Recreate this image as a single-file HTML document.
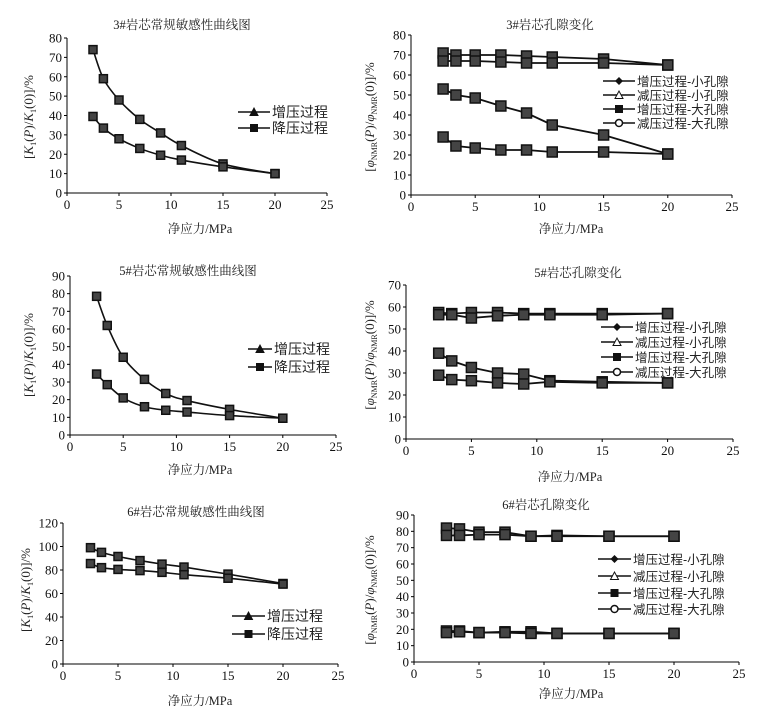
<!DOCTYPE html>
<html><head><meta charset="utf-8">
<style>
body{margin:0;background:#fff;}
svg{display:block;font-family:"Liberation Serif","Noto Serif CJK SC","Noto Sans CJK SC",serif;}
</style></head>
<body>
<svg id="chart" width="766" height="717" viewBox="0 0 766 717"></svg>
<script>
const xs = [2.5, 3.5, 5, 7, 9, 11, 15, 20];
const xTicks = [0, 5, 10, 15, 20, 25];
// panel 1: 3# conventional sensitivity
const p1Up = [74, 59, 48, 38, 31, 24.5, 15, 10];
const p1Down = [39.5, 33.5, 28, 23, 19.5, 17, 13.5, 10];
const p1YTicks = [0, 10, 20, 30, 40, 50, 60, 70, 80];
// panel 2: 3# pore change
const p2A = [71, 70, 70, 70, 69.5, 69, 68, 65];
const p2B = [67, 67, 67, 66.5, 66, 66, 66, 65];
const p2C = [53, 50, 48.5, 44.5, 41, 35, 30, 20.5];
const p2D = [29, 24.5, 23.5, 22.5, 22.5, 21.5, 21.5, 20.5];
const p2YTicks = [0, 10, 20, 30, 40, 50, 60, 70, 80];
// panel 3: 5# conventional sensitivity
const p3Up = [78.5, 62, 44, 31.5, 23.5, 19.5, 14.5, 9.5];
const p3Down = [34.5, 28.5, 21, 16, 14, 13, 11, 9.5];
const p3YTicks = [0, 10, 20, 30, 40, 50, 60, 70, 80, 90];
// panel 4: 5# pore change
const p4A = [57.5, 57, 57.5, 57.5, 57, 57, 57, 57];
const p4B = [56.5, 56.5, 55, 56, 56.5, 56.5, 56.5, 57];
const p4C = [39, 35.5, 32.5, 30, 29.5, 26.5, 26, 25.5];
const p4D = [29, 27, 26.5, 25.5, 25, 26, 25.5, 25.5];
const p4YTicks = [0, 10, 20, 30, 40, 50, 60, 70];
// panel 5: 6# conventional sensitivity
const p5Up = [99, 95, 91.5, 88, 85, 82.5, 76.5, 68.5];
const p5Down = [85.5, 82, 80.5, 79.5, 78, 76, 73, 68];
const p5YTicks = [0, 20, 40, 60, 80, 100, 120];
// panel 6: 6# pore change
const p6A = [82, 81.5, 79.5, 79.5, 77, 77.5, 77, 77];
const p6B = [77.5, 77.5, 78, 78, 77, 77, 77, 77];
const p6C = [19, 19, 18, 18.5, 18.5, 17.5, 17.5, 17.5];
const p6D = [18, 18.5, 18, 18, 17.5, 17.5, 17.5, 17.5];
const p6YTicks = [0, 10, 20, 30, 40, 50, 60, 70, 80, 90];

const legSens = ['增压过程', '降压过程'];
const legPore = ['增压过程-小孔隙', '减压过程-小孔隙', '增压过程-大孔隙', '减压过程-大孔隙'];

const svg = document.getElementById('chart');
const NS = 'http://www.w3.org/2000/svg';
function mk(tag, attrs, parent) {
  const e = document.createElementNS(NS, tag);
  for (const k in attrs) e.setAttribute(k, attrs[k]);
  (parent || svg).appendChild(e);
  return e;
}
function txt(s, attrs, parent) { const t = mk('text', attrs, parent); t.textContent = s; return t; }

function smoothPath(pts) {
  let d = 'M' + pts[0][0] + ' ' + pts[0][1];
  for (let i = 0; i < pts.length - 1; i++) {
    const p0 = pts[Math.max(0, i - 1)], p1 = pts[i], p2 = pts[i + 1], p3 = pts[Math.min(pts.length - 1, i + 2)];
    const c1x = p1[0] + (p2[0] - p0[0]) / 6, c1y = p1[1] + (p2[1] - p0[1]) / 6;
    const c2x = p2[0] - (p3[0] - p1[0]) / 6, c2y = p2[1] - (p3[1] - p1[1]) / 6;
    d += ' C' + c1x + ' ' + c1y + ' ' + c2x + ' ' + c2y + ' ' + p2[0] + ' ' + p2[1];
  }
  return d;
}

function panel(cfg) {
  const g = mk('g', {});
  
  
  const ymax = cfg.yTicks[cfg.yTicks.length - 1];
  const X = v => cfg.x0 + (v / 25) * (cfg.x25 - cfg.x0);
  const Y = v => cfg.y0 - (v / ymax) * (cfg.y0 - cfg.yTop);
  const t = txt(cfg.title, {x: cfg.tx, y: cfg.ty, 'font-size': 12.5, 'text-anchor': 'middle', fill: '#222'}, g);
  
  
  const ax = mk('g', {}, g);
  
  
  mk('line', {x1: cfg.x0, y1: cfg.yTop, x2: cfg.x0, y2: cfg.y0, stroke: '#000', 'stroke-width': 1}, ax);
  mk('line', {x1: cfg.x0, y1: cfg.y0, x2: cfg.x25, y2: cfg.y0, stroke: '#000', 'stroke-width': 1}, ax);
  cfg.yTicks.forEach(v => {
    mk('line', {x1: cfg.x0 - 3, y1: Y(v), x2: cfg.x0, y2: Y(v), stroke: '#000'}, ax);
    const l = txt(v, {x: cfg.x0 - 5, y: Y(v) + 4.5, 'font-size': 13, 'text-anchor': 'end', fill: '#111'}, ax);
    
    
  });
  xTicks.forEach(v => {
    mk('line', {x1: X(v), y1: cfg.y0, x2: X(v), y2: cfg.y0 + 3, stroke: '#000'}, ax);
    const l = txt(v, {x: X(v), y: cfg.y0 + 16, 'font-size': 13, 'text-anchor': 'middle', fill: '#111'}, ax);
    
    
  });
  const xl = txt('净应力/MPa', {x: cfg.xlx, y: cfg.xly, 'font-size': 12.5, 'text-anchor': 'middle', fill: '#222'}, g);
  
  
  const yl = mk('text', {x: 0, y: 0, 'font-size': 13, 'text-anchor': 'middle', fill: '#222',
    transform: 'translate(' + cfg.ylx + ',' + cfg.yly + ') rotate(-90)'}, g);
  
  
  if (cfg.sens) {
    yl.innerHTML = '[<tspan font-style="italic">K</tspan><tspan font-size="8" dy="3">1</tspan><tspan dy="-3">(</tspan><tspan font-style="italic">P</tspan>)/<tspan font-style="italic">K</tspan><tspan font-size="8" dy="3">1</tspan><tspan dy="-3">(0)]/%</tspan>';
  } else {
    yl.innerHTML = '[<tspan font-style="italic">φ</tspan><tspan font-size="8" dy="3">NMR</tspan><tspan dy="-3">(</tspan><tspan font-style="italic">P</tspan>)/<tspan font-style="italic">φ</tspan><tspan font-size="8" dy="3">NMR</tspan><tspan dy="-3">(0)]/%</tspan>';
  }
  cfg.series.forEach((s, si) => {
    const sg = mk('g', {}, g);
    
    
    const pts = xs.map((x, i) => [X(x), Y(s[i])]);
    const d = cfg.sens ? smoothPath(pts) : 'M' + pts.map(p => p.join(' ')).join(' L');
    mk('path', {d: d, fill: 'none', stroke: '#111', 'stroke-width': cfg.sens ? 1.6 : 1.8}, sg);
    const m = cfg.sens ? 8 : 10;
    pts.forEach(p => {
      const r = mk('rect', {x: p[0] - m / 2, y: p[1] - m / 2, width: m, height: m, fill: '#444', stroke: '#111', 'stroke-width': 1.5}, sg);
      
      
    });
  });
  const lg = mk('g', {}, g);
  
  
  cfg.legend.forEach((s, i) => {
    const e = mk('g', {}, lg);
    
    
    const y = cfg.legY[i];
    mk('line', {x1: cfg.legX1, y1: y, x2: cfg.legX2, y2: y, stroke: '#111', 'stroke-width': 1.6}, e);
    const mx = (cfg.legX1 + cfg.legX2) / 2;
    if (cfg.sens ? i === 0 : (i === 1)) mk('path', {d: 'M' + (mx - 4) + ' ' + (y + 3.5) + ' L' + mx + ' ' + (y - 4) + ' L' + (mx + 4) + ' ' + (y + 3.5) + 'Z', fill: cfg.sens ? '#111' : '#fff', stroke: '#111'}, e);
    else if (cfg.sens || i === 2) mk('rect', {x: mx - 4, y: y - 4, width: 8, height: 8, fill: '#111'}, e);
    else if (i === 0) mk('path', {d: 'M' + (mx - 4) + ' ' + y + ' L' + mx + ' ' + (y - 4) + ' L' + (mx + 4) + ' ' + y + ' L' + mx + ' ' + (y + 4) + 'Z', fill: '#111'}, e);
    else mk('circle', {cx: mx, cy: y, r: 3.5, fill: '#fff', stroke: '#111', 'stroke-width': 1.5}, e);
    txt(s, {x: cfg.legX2 + 2, y: y + 5, 'font-size': cfg.sens ? 14 : 12.5, fill: '#222', 'font-family': '"Liberation Sans","Noto Sans CJK SC",sans-serif'}, e);
  });
}

panel({name: 'panel-3-sensitivity', sens: true, title: '3#岩芯常规敏感性曲线图', tx: 182, ty: 29,
  x0: 67, x25: 327, y0: 193, yTop: 38, yTicks: p1YTicks, xlx: 200, xly: 233, ylx: 33, yly: 117,
  series: [p1Up, p1Down], legend: legSens, legX1: 238, legX2: 270, legY: [112, 128]});
panel({name: 'panel-3-pore', sens: false, title: '3#岩芯孔隙变化', tx: 550, ty: 29,
  x0: 411, x25: 732, y0: 195, yTop: 35, yTicks: p2YTicks, xlx: 571, xly: 233, ylx: 374, yly: 117,
  series: [p2A, p2B, p2C, p2D], legend: legPore, legX1: 603, legX2: 635, legY: [81, 95, 109, 123]});
panel({name: 'panel-5-sensitivity', sens: true, title: '5#岩芯常规敏感性曲线图', tx: 188, ty: 275,
  x0: 70, x25: 336, y0: 435, yTop: 276, yTicks: p3YTicks, xlx: 200, xly: 474, ylx: 33, yly: 355,
  series: [p3Up, p3Down], legend: legSens, legX1: 248, legX2: 272, legY: [349, 367]});
panel({name: 'panel-5-pore', sens: false, title: '5#岩芯孔隙变化', tx: 578, ty: 277,
  x0: 406, x25: 733, y0: 439, yTop: 285, yTicks: p4YTicks, xlx: 570, xly: 481, ylx: 374, yly: 355,
  series: [p4A, p4B, p4C, p4D], legend: legPore, legX1: 601, legX2: 633, legY: [327, 342, 357, 372]});
panel({name: 'panel-6-sensitivity', sens: true, title: '6#岩芯常规敏感性曲线图', tx: 196, ty: 516,
  x0: 63, x25: 338, y0: 664, yTop: 523, yTicks: p5YTicks, xlx: 200, xly: 705, ylx: 30, yly: 590,
  series: [p5Up, p5Down], legend: legSens, legX1: 232, legX2: 265, legY: [616, 634]});
panel({name: 'panel-6-pore', sens: false, title: '6#岩芯孔隙变化', tx: 546, ty: 509,
  x0: 414, x25: 739, y0: 662, yTop: 515, yTicks: p6YTicks, xlx: 571, xly: 698, ylx: 374, yly: 590,
  series: [p6A, p6B, p6C, p6D], legend: legPore, legX1: 598, legX2: 631, legY: [559, 576, 593, 609]});
</script>
</body></html>
